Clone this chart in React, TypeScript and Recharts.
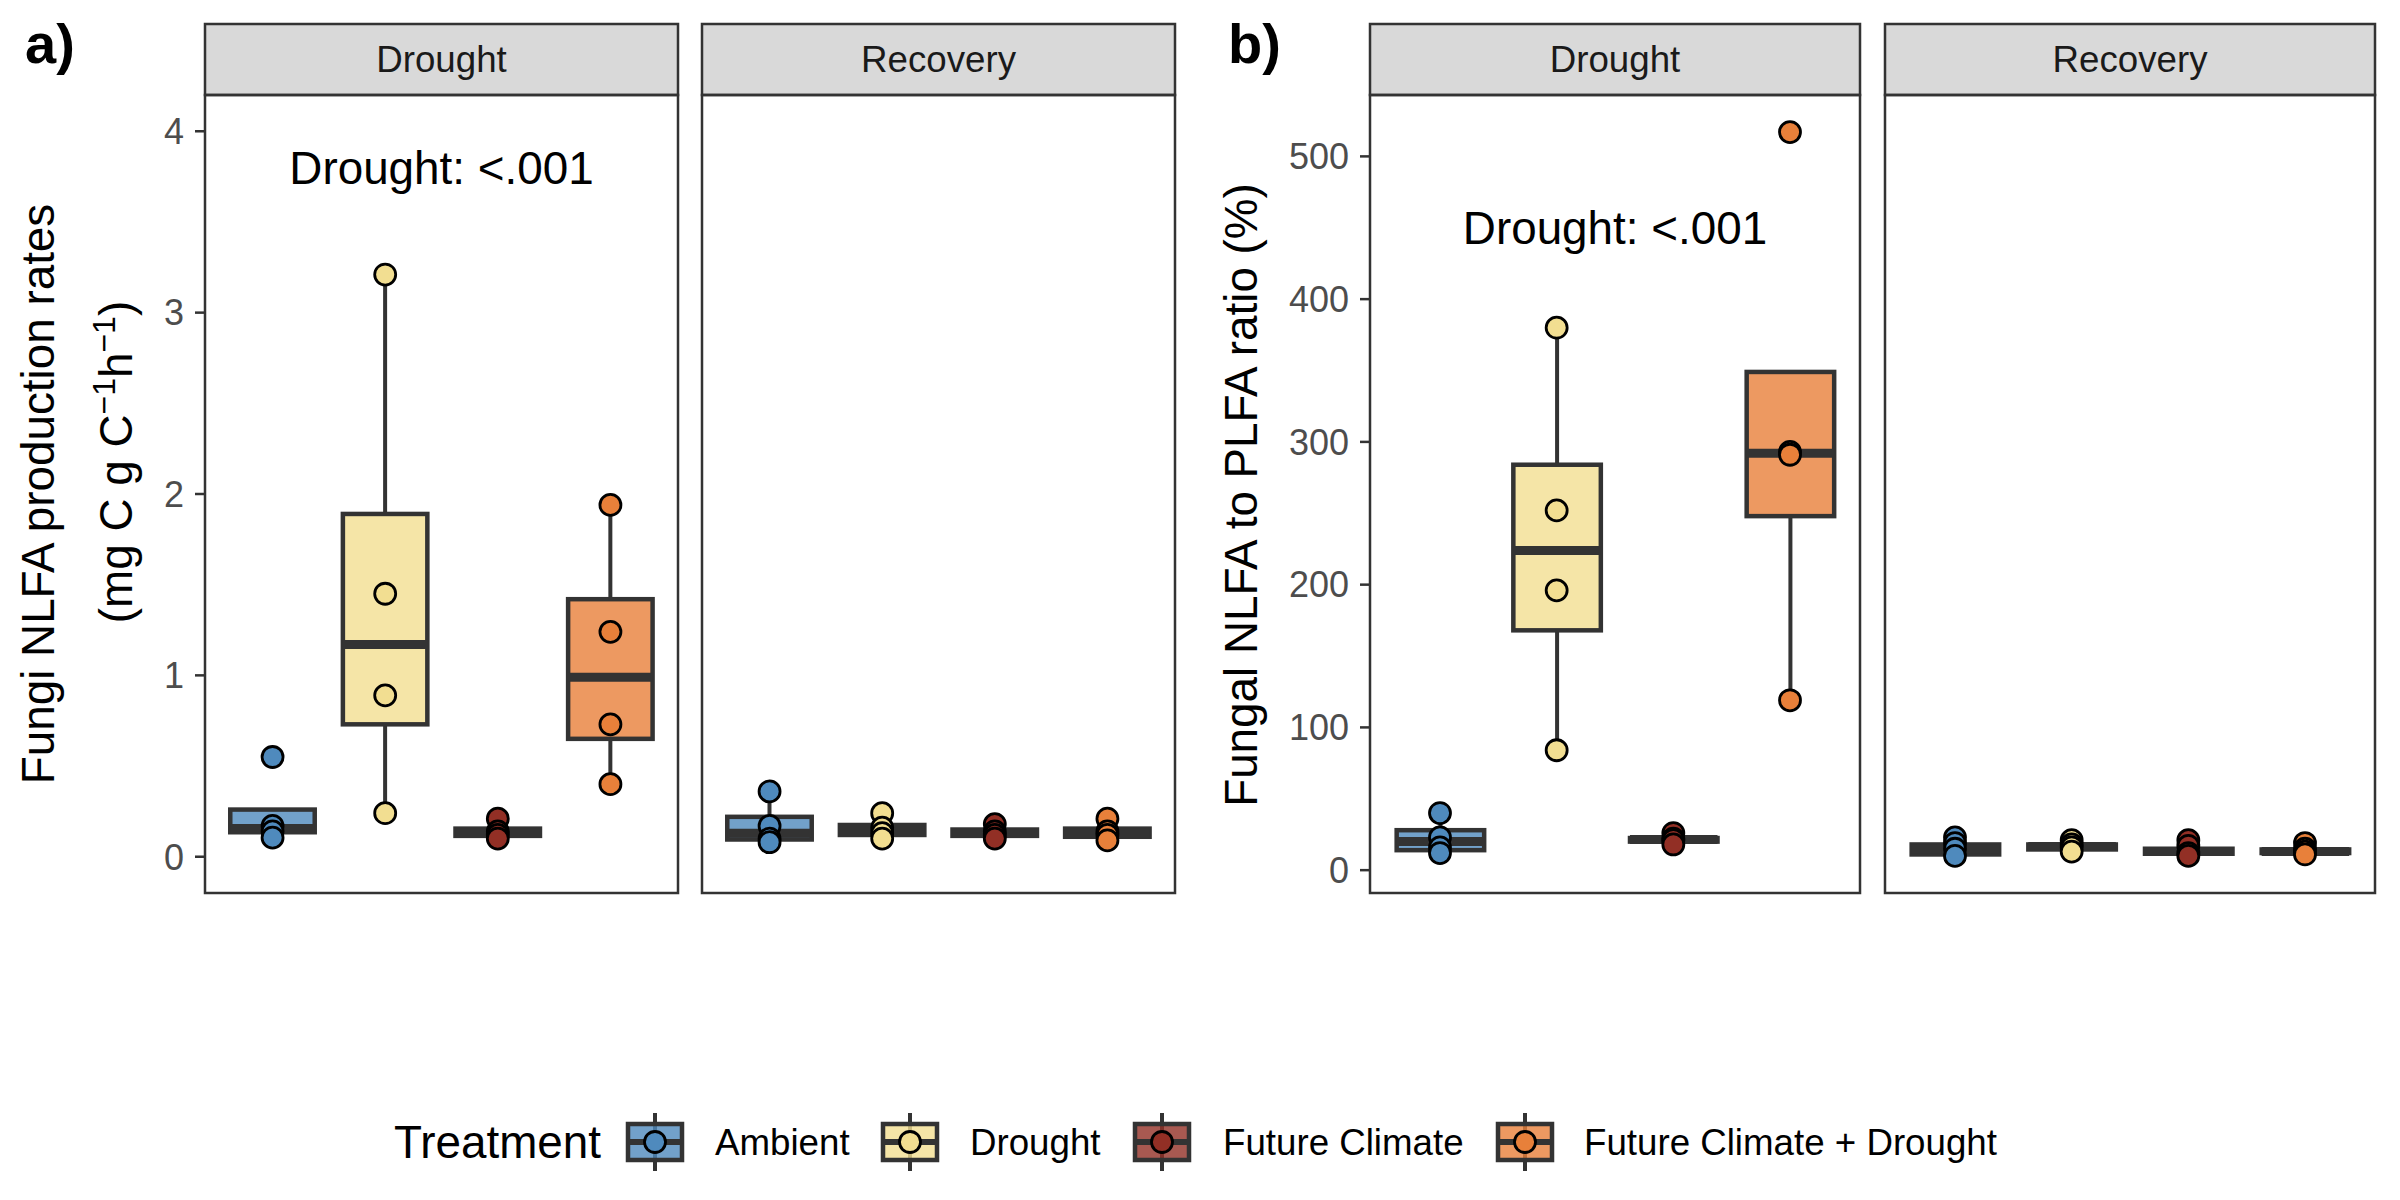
import React from "react";
import { ComposedChart, Bar, Scatter, XAxis, YAxis, ReferenceLine } from "recharts";

const TREATMENTS = ["Ambient", "Drought", "Future Climate", "Future Climate + Drought"];
const FACETS = ["Drought", "Recovery"];

// box stats per treatment: [lower whisker, Q1, median, Q3, upper whisker]
const A_DROUGHT_BOX = [
  [0.105, 0.135, 0.155, 0.26, 0.17],
  [0.24, 0.73, 1.17, 1.89, 3.21],
  [0.1, 0.115, 0.13, 0.155, 0.21],
  [0.4, 0.65, 0.99, 1.42, 1.94],
];
const A_DROUGHT_PTS = [
  [0.55, 0.17, 0.14, 0.105],
  [3.21, 1.45, 0.89, 0.24],
  [0.21, 0.14, 0.12, 0.1],
  [1.94, 1.24, 0.73, 0.4],
];
const A_RECOVERY_BOX = [
  [0.08, 0.095, 0.13, 0.22, 0.36],
  [0.1, 0.12, 0.145, 0.175, 0.24],
  [0.1, 0.115, 0.13, 0.15, 0.18],
  [0.09, 0.11, 0.13, 0.155, 0.21],
];
const A_RECOVERY_PTS = [
  [0.36, 0.17, 0.1, 0.08],
  [0.24, 0.16, 0.13, 0.1],
  [0.18, 0.14, 0.12, 0.1],
  [0.21, 0.14, 0.12, 0.09],
];
const B_DROUGHT_BOX = [
  [12, 14, 20, 28, 40],
  [84, 168, 224, 284, 380],
  [18, 20, 21.5, 22.5, 26],
  [119, 248, 292, 349, 293],
];
const B_DROUGHT_PTS = [
  [40, 23, 16, 12],
  [380, 252, 196, 84],
  [26, 22, 21, 18],
  [517, 293, 291, 119],
];
const B_RECOVERY_BOX = [
  [10, 11, 15, 18, 23],
  [13, 14.5, 16.5, 18, 21],
  [10, 11.5, 13, 15, 21],
  [11, 12, 13, 14.5, 19],
];
const B_RECOVERY_PTS = [
  [23, 19, 15, 10],
  [21, 18, 16, 13],
  [21, 17, 12, 10],
  [19, 15, 13, 11],
];

const A_TICKS = [0, 1, 2, 3, 4];
const B_TICKS = [0, 100, 200, 300, 400, 500];
const A_DOMAIN = [-0.2, 4.2];
const B_DOMAIN = [-16, 543];
const NOTE = "Drought: <.001";
const A_NOTE_Y = 3.8;
const B_NOTE_Y = 450;

const COLORS = ["#4f8abd", "#f2de91", "#922f25", "#e8803a"];
const INK = "#333333";
const FONT = "'Liberation Sans', Arial, sans-serif";

const TOP = 95;
const BOTTOM = 893;
const STRIP_TOP = 24;

function buildRows(box: number[][], pts: number[][]) {
  return TREATMENTS.map((t, i) => ({
    t,
    i,
    box: box[i],
    p0: pts[i][0],
    p1: pts[i][1],
    p2: pts[i][2],
    p3: pts[i][3],
  }));
}

function BoxShape(props: any) {
  const { x, y, width, height, payload } = props;
  if (x == null || y == null) return null;
  const [wlo, q1, med, q3, whi] = payload.box;
  const lo = Math.min(wlo, q1);
  const hi = Math.max(whi, q3);
  const top = Math.min(y, y + height);
  const h = Math.abs(height);
  const py = (v: number) => top + (h * (hi - v)) / (hi - lo);
  const cx = x + width / 2;
  const color = COLORS[payload.i];
  return (
    <g>
      {whi > q3 && <line x1={cx} x2={cx} y1={py(q3)} y2={py(whi)} stroke={INK} strokeWidth={4} />}
      {wlo < q1 && <line x1={cx} x2={cx} y1={py(q1)} y2={py(wlo)} stroke={INK} strokeWidth={4} />}
      <rect x={x} y={py(q3)} width={width} height={py(q1) - py(q3)} fill={color} fillOpacity={0.8} stroke={INK} strokeWidth={4.5} />
      <line x1={x} x2={x + width} y1={py(med)} y2={py(med)} stroke={INK} strokeWidth={9} />
    </g>
  );
}

function Dot(props: any) {
  const { cx, cy, payload } = props;
  if (cx == null || cy == null) return null;
  return <circle cx={cx} cy={cy} r={10.5} fill={COLORS[payload.i]} stroke="#000" strokeWidth={2.8} />;
}

type FacetProps = {
  rows: any[];
  domain: number[];
  ticks: number[];
  left: number;
  plotWidth: number;
  axis: boolean;
  noteY?: number;
};

function Facet({ rows, domain, ticks, left, plotWidth, axis, noteY }: FacetProps) {
  const axisW = axis ? 120 : 0;
  const pad = plotWidth / 42;
  const barSize = (0.75 * plotWidth) / 4.2;
  return (
    <div style={{ position: "absolute", left: left - axisW, top: TOP }}>
      <ComposedChart
        width={plotWidth + axisW}
        height={BOTTOM - TOP}
        data={rows}
        margin={{ top: 0, right: 0, bottom: 0, left: 0 }}
      >
        <XAxis dataKey="t" hide padding={{ left: pad, right: pad }} allowDuplicatedCategory={false} />
        <YAxis
          type="number"
          domain={domain}
          ticks={ticks}
          allowDataOverflow
          hide={!axis}
          width={axisW}
          axisLine={false}
          tickSize={10}
          tickMargin={11}
          tickLine={{ stroke: INK, strokeWidth: 2.5 }}
          tick={{ fill: "#4d4d4d", fontSize: 36, fontFamily: FONT }}
        />
        {noteY != null && (
          <ReferenceLine
            y={noteY}
            stroke="none"
            label={{ value: NOTE, position: "center", fontSize: 45.8, fill: "#000", fontFamily: FONT }}
          />
        )}
        <Bar dataKey={(d: any) => [Math.min(d.box[0], d.box[1]), Math.max(d.box[4], d.box[3])]} barSize={barSize} shape={<BoxShape />} isAnimationActive={false} />
        {["p0", "p1", "p2", "p3"].map((k) => (
          <Scatter key={k} dataKey={k} shape={<Dot />} isAnimationActive={false} />
        ))}
      </ComposedChart>
    </div>
  );
}

const PANELS = [
  { left: 205, width: 473 },
  { left: 702, width: 473 },
  { left: 1370, width: 490 },
  { left: 1885, width: 490 },
];

const LEGEND_KEYS = [655, 910, 1162, 1525];
const LEGEND_LABELS = [715, 970, 1223, 1584];

function Overlay() {
  const legendY = 1142;
  return (
    <svg width={2400} height={1200} style={{ position: "absolute", left: 0, top: 0, pointerEvents: "none" }} fontFamily={FONT}>
      {PANELS.map((p, i) => (
        <g key={i}>
          <rect x={p.left} y={STRIP_TOP} width={p.width} height={TOP - STRIP_TOP} fill="#d9d9d9" stroke={INK} strokeWidth={2.5} />
          <text x={p.left + p.width / 2} y={(STRIP_TOP + TOP) / 2} textAnchor="middle" dominantBaseline="central" fontSize={36.7} fill="#1a1a1a">
            {FACETS[i % 2]}
          </text>
          <rect x={p.left} y={TOP} width={p.width} height={BOTTOM - TOP} fill="none" stroke={INK} strokeWidth={2.5} />
        </g>
      ))}
      <text x={25} y={63} fontSize={56} fontWeight="bold" fill="#000">a)</text>
      <text x={1228} y={63} fontSize={56} fontWeight="bold" fill="#000">b)</text>
      <text transform="translate(54,494) rotate(-90)" textAnchor="middle" fontSize={45.8} fill="#000">
        Fungi NLFA production rates
      </text>
      <text transform="translate(132,462) rotate(-90)" textAnchor="middle" fontSize={45.8} fill="#000">
        (mg C g C
        <tspan dy={-17} fontSize={32}>−1</tspan>
        <tspan dy={17}>h</tspan>
        <tspan dy={-17} fontSize={32}>−1</tspan>
        <tspan dy={17}>)</tspan>
      </text>
      <text transform="translate(1257,495) rotate(-90)" textAnchor="middle" fontSize={45.8} fill="#000">
        Fungal NLFA to PLFA ratio (%)
      </text>
      <text x={394} y={legendY} dominantBaseline="central" fontSize={45.8} fill="#000">Treatment</text>
      {TREATMENTS.map((t, i) => {
        const cx = LEGEND_KEYS[i];
        return (
          <g key={t}>
            <line x1={cx} x2={cx} y1={legendY - 29} y2={legendY + 29} stroke={INK} strokeWidth={4} />
            <rect x={cx - 27} y={legendY - 18} width={54} height={36} fill={COLORS[i]} fillOpacity={0.8} stroke={INK} strokeWidth={4.5} />
            <line x1={cx - 27} x2={cx + 27} y1={legendY} y2={legendY} stroke={INK} strokeWidth={6} />
            <circle cx={cx} cy={legendY} r={10.5} fill={COLORS[i]} stroke="#000" strokeWidth={2.8} />
            <text x={LEGEND_LABELS[i]} y={legendY} dominantBaseline="central" fontSize={36.7} fill="#000">{t}</text>
          </g>
        );
      })}
    </svg>
  );
}

export default function App() {
  return (
    <div style={{ position: "relative", width: 2400, height: 1200, background: "#fff", fontFamily: FONT }}>
      <style>{"body{margin:0}"}</style>
      <Facet rows={buildRows(A_DROUGHT_BOX, A_DROUGHT_PTS)} domain={A_DOMAIN} ticks={A_TICKS} left={PANELS[0].left} plotWidth={PANELS[0].width} axis noteY={A_NOTE_Y} />
      <Facet rows={buildRows(A_RECOVERY_BOX, A_RECOVERY_PTS)} domain={A_DOMAIN} ticks={A_TICKS} left={PANELS[1].left} plotWidth={PANELS[1].width} axis={false} />
      <Facet rows={buildRows(B_DROUGHT_BOX, B_DROUGHT_PTS)} domain={B_DOMAIN} ticks={B_TICKS} left={PANELS[2].left} plotWidth={PANELS[2].width} axis noteY={B_NOTE_Y} />
      <Facet rows={buildRows(B_RECOVERY_BOX, B_RECOVERY_PTS)} domain={B_DOMAIN} ticks={B_TICKS} left={PANELS[3].left} plotWidth={PANELS[3].width} axis={false} />
      <Overlay />
    </div>
  );
}
